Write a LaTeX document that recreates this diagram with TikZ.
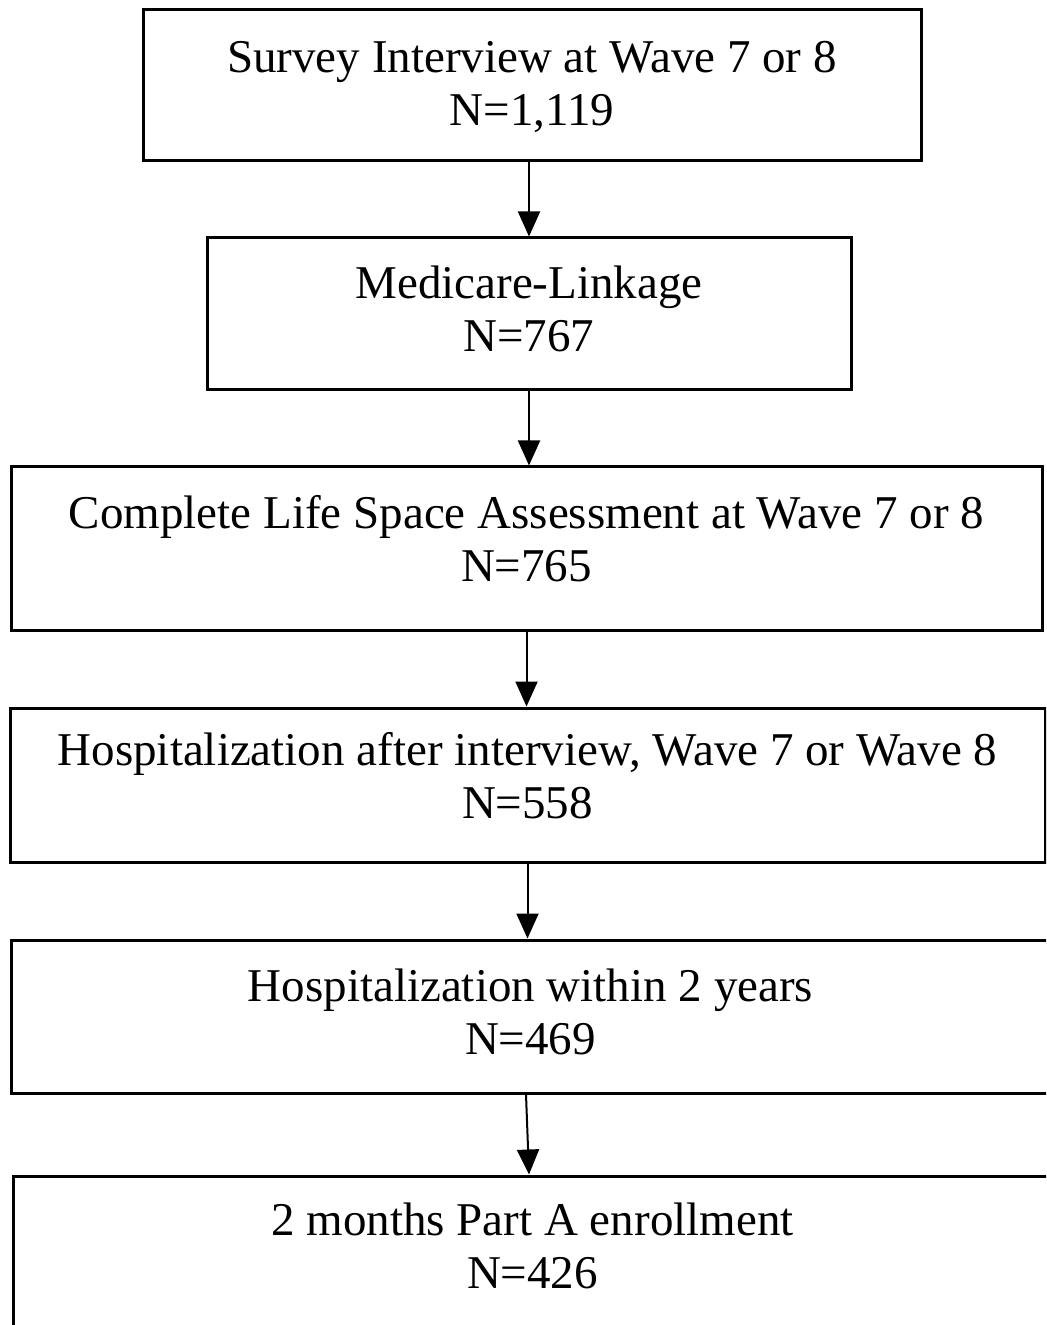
\documentclass[tikz,border=0pt]{standalone}
\usepackage{fontspec}
\setmainfont{Liberation Serif}
\usetikzlibrary{arrows.meta}

\tikzset{
    stage/.style={draw,line width=1.5pt,align=center,inner sep=0pt,
        font=\fontsize{23.5}{26.5}\selectfont},
    flow/.style={line width=1pt,-{Triangle[length=12.5pt,width=11pt]}}
}

\begin{document}
\begin{tikzpicture}[x=0.5pt,y=-0.5pt]
    \useasboundingbox (0,0) rectangle (1046,1325);
    \clip (0,0) rectangle (1046,1325);
    % boxes of the flow chart
    \node[stage,minimum width=389pt,minimum height=75.5pt,text depth=2pt] (survey) at (532,85.5)
        {Survey Interview at Wave 7 or 8\\N=1,119};
    \node[stage,minimum width=322pt,minimum height=76pt,text depth=5pt] (medicare) at (529,314)
        {Medicare-Linkage\\N=767};
    \node[stage,minimum width=515.5pt,minimum height=81.5pt,text depth=10pt] (lifespace) at (526.5,548.5)
        {Complete Life Space Assessment at Wave 7 or 8\\N=765};
    \node[stage,minimum width=517.5pt,minimum height=77pt,text depth=10pt] (hospafter) at (527.5,785)
        {Hospitalization after interview, Wave 7 or Wave 8\\N=558};
    \node[stage,minimum width=519.5pt,minimum height=76.5pt,text depth=5pt] (hosp2y) at (530.5,1016.5)
        {Hospitalization within 2 years\\N=469};
    \node[stage,minimum width=519.5pt,minimum height=80pt,text depth=10pt] (partA) at (532.5,1256)
        {2 months Part A enrollment\\N=426};
    % arrows
    \draw[flow] (survey.south -| medicare.north) -- (medicare.north);
    \draw[flow] (medicare.south) -- (medicare.south |- lifespace.north);
    \draw[flow] (lifespace.south) -- (lifespace.south |- hospafter.north);
    \draw[flow] (hospafter.south) -- (hospafter.south |- hosp2y.north);
    \draw[flow] ([xshift=-2.25pt]hosp2y.south) -- ([xshift=-1.75pt]partA.north);
\end{tikzpicture}
\end{document}
